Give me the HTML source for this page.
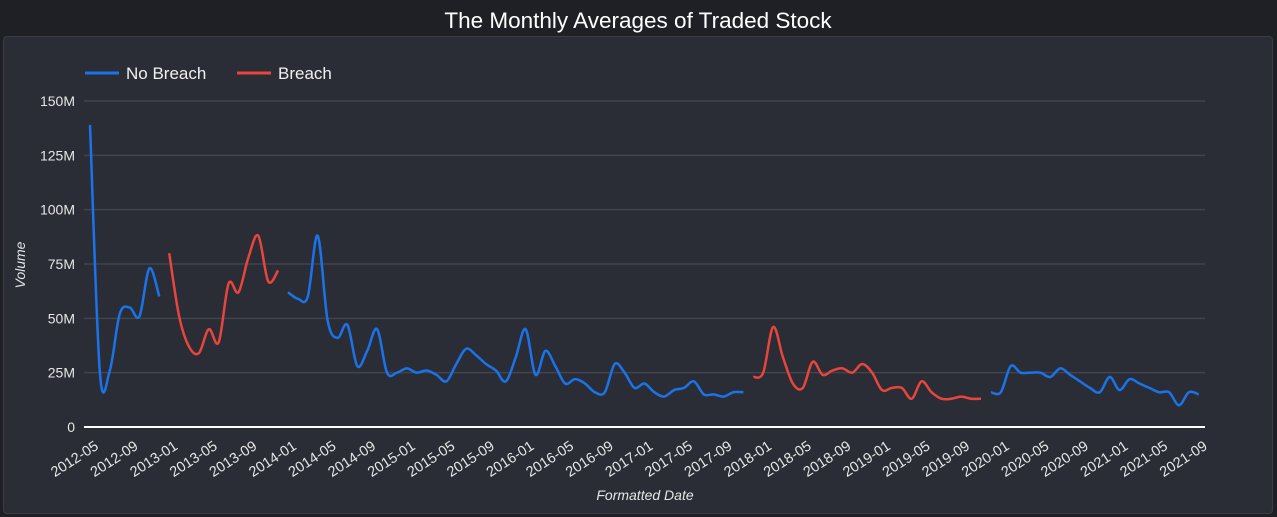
<!DOCTYPE html>
<html><head><meta charset="utf-8"><style>
body{margin:0;width:1277px;height:517px;background:#1f2026;overflow:hidden;font-family:"Liberation Sans","DejaVu Sans",sans-serif}
#panel{position:absolute;left:3px;top:36px;width:1268px;height:476px;background:#2b2d36;border:1px solid #3a3c46;border-radius:4px}
</style></head><body>
<div id="panel"></div>
<svg id="c" width="1277" height="517" style="position:absolute;left:0;top:0"></svg>
<script>
const tickLabels=["2012-05","2012-09","2013-01","2013-05","2013-09","2014-01","2014-05","2014-09","2015-01","2015-05","2015-09","2016-01","2016-05","2016-09","2017-01","2017-05","2017-09","2018-01","2018-05","2018-09","2019-01","2019-05","2019-09","2020-01","2020-05","2020-09","2021-01","2021-05","2021-09"];
const yTicks=[0,25,50,75,100,125,150];
const noBreach1Start=0;
const noBreach1=[139,25,26,52,55,51,73,60];
const breach1Start=8;
const breach1=[80,51,37,34,45,39,66,62,78,88,67,72];
const noBreach2Start=20;
const noBreach2=[62,59,60,88,49,41,47,28,35,45,25,25,27,25,26,24,21,29,36,33,29,26,21,32,45,24,35,28,20,22,20,16,16,29,25,18,20,16,14,17,18,21,15,15,14,16,16];
const breach2Start=67;
const breach2=[23,25,46,32,20,18,30,24,26,27,25,29,25,17,18,18,13,21,16,13,13,14,13,13];
const noBreach3Start=91;
const noBreach3=[16,16,28,25,25,25,23,27,24,21,18,16,23,17,22,20,18,16,16,10,16,15];

const svg=document.getElementById('c');const NS='http://www.w3.org/2000/svg';
const X0=90,PXM=9.9,Y0=427,YTOP=101;
const xs=i=>X0+i*PXM;
const ys=v=>Y0-(v/150)*(Y0-YTOP);
function mk(t,a,p){const e=document.createElementNS(NS,t);for(const k in a)e.setAttribute(k,a[k]);(p||svg).appendChild(e);return e;}
let t=mk('text',{x:638,y:28,'text-anchor':'middle',fill:'#fff','font-size':22.5});t.textContent='The Monthly Averages of Traded Stock';


yTicks.forEach(v=>{
 const l=mk('line',{x1:84,x2:1205,y1:ys(v),y2:ys(v),stroke:v===0?'#ffffff':'#41434d','stroke-width':v===0?2:1.5});
 
 
 const tx=mk('text',{x:75,y:ys(v)+5,'text-anchor':'end',fill:'#e6e6e6','font-size':14});
 tx.textContent=v===0?'0':v+'M';
 
 
});
tickLabels.forEach((s,k)=>{
 const x=xs(k*4)+4,y=450;
 const tx=mk('text',{x:x,y:y,'text-anchor':'end',fill:'#e6e6e6','font-size':14.5,transform:`rotate(-33 ${x} ${y-10})`});
 tx.textContent=s;
 
 
});
let at=mk('text',{x:645,y:500,'text-anchor':'middle',fill:'#e6e6e6','font-size':14,'font-style':'italic'});at.textContent='Formatted Date';


let ay=mk('text',{x:25,y:265,'text-anchor':'middle',fill:'#e6e6e6','font-size':14,'font-style':'italic',transform:'rotate(-90 25 265)'});ay.textContent='Volume';


function pathFor(start,vals){
 const p=vals.map((v,i)=>[xs(start+i),ys(v)]);
 let d=`M${p[0][0]},${p[0][1]}`;
 for(let i=0;i<p.length-1;i++){
  const p0=p[i-1]||p[i],p1=p[i],p2=p[i+1],p3=p[i+2]||p2,k=1/6;
  d+=` C${p1[0]+(p2[0]-p0[0])*k},${p1[1]+(p2[1]-p0[1])*k} ${p2[0]-(p3[0]-p1[0])*k},${p2[1]-(p3[1]-p1[1])*k} ${p2[0]},${p2[1]}`;
 }
 return d;
}
const BLUE='#1a73e8',RED='#e8453c';
[[noBreach1Start,noBreach1,BLUE,'no-breach-line-1'],[breach1Start,breach1,RED,'breach-line-1'],[noBreach2Start,noBreach2,BLUE,'no-breach-line-2'],[breach2Start,breach2,RED,'breach-line-2'],[noBreach3Start,noBreach3,BLUE,'no-breach-line-3']].forEach(s=>{
 const e=mk('path',{d:pathFor(s[0],s[1]),fill:'none',stroke:s[2],'stroke-width':2.5,'stroke-linejoin':'round'});
 
 
});
const lg=mk('g',{});


[[85,'No Breach',BLUE,'legend-entry-no-breach'],[237,'Breach',RED,'legend-entry-breach']].forEach(a=>{
 const g=mk('g',{},lg);
 
 
 mk('line',{x1:a[0],x2:a[0]+34,y1:73,y2:73,stroke:a[2],'stroke-width':3},g);
 const tx=mk('text',{x:a[0]+41,y:79,fill:'#f0f0f0','font-size':17},g);tx.textContent=a[1];
});
</script>
</body></html>
